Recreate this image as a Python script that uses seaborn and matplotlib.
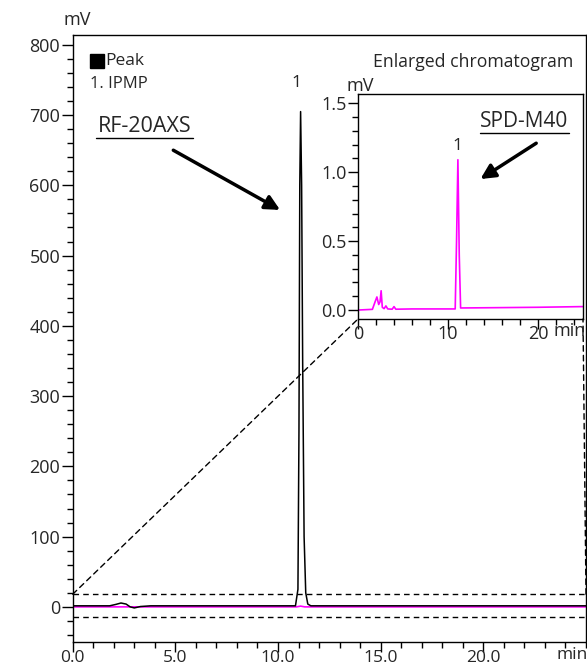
import matplotlib
matplotlib.use("Agg")
import matplotlib.pyplot as plt
import seaborn as sns
from matplotlib.ticker import MultipleLocator
from matplotlib.patches import ConnectionPatch

# RF-20AXS trace (black)
rf_time = [0, 1.8, 2.1, 2.35, 2.6, 2.8, 3.0, 3.3, 3.8, 10.85, 10.97, 11.02, 11.06, 11.1,
           11.15, 11.2, 11.27, 11.35, 11.45, 11.6, 25]
rf_mv = [1.5, 1.5, 3.5, 5.5, 4.0, 0.0, -1.5, 0.5, 1.5, 1.5, 25, 250, 600, 705,
         600, 350, 100, 20, 4, 1.5, 1.5]

# SPD-M40 trace (magenta) on the main scale
spd_main_time = [0, 10.9, 11.1, 11.3, 25]
spd_main_mv = [0, 0, 1.1, 0, 0]

# SPD-M40 trace in the enlarged chromatogram
spd_time = [0, 1.6, 1.9, 2.1, 2.3, 2.45, 2.57, 2.7, 2.9, 3.1, 3.3, 3.8, 4.0, 4.2, 6, 10.8,
            10.95, 11.1, 11.25, 11.4, 15, 20, 25]
spd_mv = [0.0, 0.005, 0.06, 0.095, 0.04, 0.06, 0.14, 0.02, 0.01, 0.03, 0.008, 0.006, 0.025,
          0.006, 0.008, 0.008, 0.5, 1.09, 0.4, 0.015, 0.017, 0.02, 0.025]

xticks_main = [0, 5, 10, 15, 20]
xlabels_main = ["0.0", "5.0", "10.0", "15.0", "20.0"]
yticks_main = [0, 100, 200, 300, 400, 500, 600, 700, 800]
xticks_inset = [0, 10, 20]
xlabels_inset = ["0", "10", "20"]
yticks_inset = [0, 0.5, 1.0, 1.5]
ylabels_inset = ["0.0", "0.5", "1.0", "1.5"]

sns.set_style("ticks")
plt.rcParams["font.family"] = ["Open Sans", "DejaVu Sans"]
plt.rcParams["font.size"] = 13

W, H = 587, 666
fig = plt.figure(figsize=(W / 100, H / 100), dpi=100)

ax = fig.add_axes([72.7 / W, 1 - 642 / H, (586 - 72.7) / W, (642 - 35) / H])
sns.lineplot(x=spd_main_time, y=spd_main_mv, ax=ax, color="#ff00ff", lw=1.2)
sns.lineplot(x=rf_time, y=rf_mv, ax=ax, color="black", lw=1.1)
ax.set_xlim(0, 25)
ax.set_ylim(-50, 814)
ax.set_xticks(xticks_main)
ax.set_xticklabels(xlabels_main)
ax.set_yticks(yticks_main)
ax.xaxis.set_minor_locator(MultipleLocator(1))
ax.yaxis.set_minor_locator(MultipleLocator(20))
ax.tick_params(which="major", length=8, width=1, color="black", labelsize=13)
ax.tick_params(axis="x", which="major", length=7, pad=-1, labelsize=12.5)
ax.tick_params(axis="y", which="major", pad=1)
ax.tick_params(which="minor", length=4, width=1, color="black")
for s in ax.spines.values():
    s.set_visible(True)
    s.set_color("black")
    s.set_linewidth(1)

ax.axhline(18, ls="--", color="black", lw=1, dashes=(4, 3))
ax.axhline(-14, ls="--", color="black", lw=1, dashes=(4, 3))

# legend-like notes
ax.plot([0.047], [0.957], marker="s", ms=10.5, color="black", transform=ax.transAxes,
        clip_on=False)
ax.text(0.064, 0.957, "Peak", transform=ax.transAxes, va="center", ha="left", fontsize=12.5)
ax.text(0.033, 0.92, "1. IPMP", transform=ax.transAxes, va="center", ha="left", fontsize=12)
ax.text(10.9, 745, "1", ha="center", va="center", fontsize=12.5)

ax.text(3.5, 684, "RF-20AXS", ha="center", va="center", fontsize=15.5)
ax.plot([1.15, 5.85], [668, 668], color="black", lw=1)
ax.annotate("", xy=(10.1, 565), xytext=(4.9, 650),
            arrowprops=dict(arrowstyle="-|>", lw=2.5, color="black", mutation_scale=22,
                            shrinkA=0, shrinkB=0))

fig.text(77 / W, 1 - 20 / H, "mV", ha="center", va="center", fontsize=13)
fig.text(572 / W, 1 - 655 / H, "min", ha="center", va="center", fontsize=12.5)

# inset
ins = fig.add_axes([358 / W, 1 - 319 / H, (583 - 358) / W, (319 - 94) / H])
sns.lineplot(x=spd_time, y=spd_mv, ax=ins, color="#ff00ff", lw=1.2)
ins.set_xlim(0, 25)
ins.set_ylim(-0.065, 1.567)
ins.set_xticks(xticks_inset)
ins.set_xticklabels(xlabels_inset)
ins.set_yticks(yticks_inset)
ins.set_yticklabels(ylabels_inset)
ins.xaxis.set_minor_locator(MultipleLocator(2))
ins.yaxis.set_minor_locator(MultipleLocator(0.1))
ins.tick_params(which="major", length=7, width=1, color="black", labelsize=13)
ins.tick_params(axis="x", which="major", pad=-3)
ins.tick_params(axis="y", which="major", pad=1)
ins.tick_params(which="minor", length=4, width=1, color="black")
for s in ins.spines.values():
    s.set_visible(True)
    s.set_color("black")
    s.set_linewidth(1)

ins.text(11.1, 1.19, "1", ha="center", va="center", fontsize=12.5)
ins.text(18.5, 1.368, "SPD-M40", ha="center", va="center", fontsize=15)
ins.plot([13.6, 23.4], [1.282, 1.282], color="black", lw=1)
ins.annotate("", xy=(13.6, 0.95), xytext=(19.8, 1.21),
             arrowprops=dict(arrowstyle="-|>", lw=2.5, color="black", mutation_scale=22,
                             shrinkA=0, shrinkB=0))

fig.text(360 / W, 1 - 86 / H, "mV", ha="center", va="center", fontsize=13)
fig.text(570 / W, 1 - 331 / H, "min", ha="center", va="center", fontsize=13)
fig.text(473 / W, 1 - 62 / H, "Enlarged chromatogram", ha="center", va="center", fontsize=12.7)

# zoom connectors
for xa, xb in [(0, 0), (25, 1)]:
    con = ConnectionPatch(xyA=(xa, 18), coordsA=ax.transData, xyB=(xb, 0),
                          coordsB=ins.transAxes, ls=(0, (4, 3)), color="black", lw=1)
    fig.add_artist(con)

fig.savefig("out.png", dpi=100)
